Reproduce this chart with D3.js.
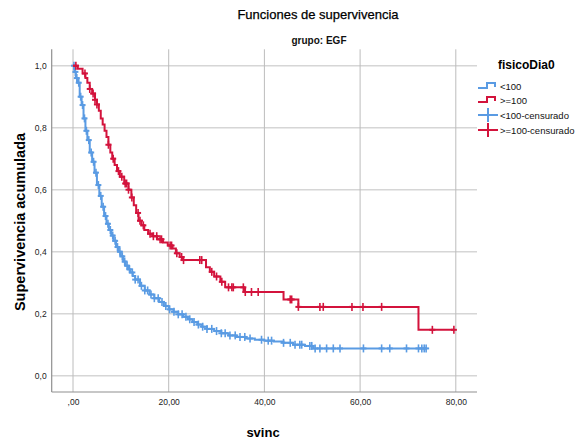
<!DOCTYPE html>
<html>
<head>
<meta charset="utf-8">
<script src="https://cdn.jsdelivr.net/npm/d3@7"></script>
<style>
  body { margin: 0; background: #fff; }
  svg { display: block; font-family: "Liberation Sans", Arial, sans-serif; }
</style>
</head>
<body>
<svg width="585" height="441"></svg>
<script>
// survival curves (step points)
var blueTime = [0,0.3,0.6,1.0,1.4,1.8,2.2,2.6,3.0,3.5,4.0,4.5,5.0,5.5,6.0,6.5,7.0,7.5,8.0,8.5,9.0,9.5,10.0,10.5,11.0,11.5,12.0,12.5,13.0,14.0,15.0,16.0,17.0,18.0,19.0,20.0,21.0,22.0,23.0,24.0,25.0,26.0,27.0,28.0,29.5,31.0,32.5,34.0,36.0,38.0,40.0,42.0,44.0,46.0,48.5,50.2];
var blueSurv = [1.0,0.98,0.96,0.945,0.9,0.873,0.83,0.79,0.76,0.72,0.69,0.655,0.615,0.58,0.545,0.515,0.49,0.47,0.452,0.435,0.415,0.4,0.385,0.368,0.355,0.343,0.333,0.322,0.31,0.29,0.275,0.262,0.25,0.238,0.225,0.214,0.206,0.198,0.19,0.182,0.173,0.165,0.158,0.151,0.144,0.137,0.13,0.125,0.12,0.116,0.113,0.11,0.106,0.1,0.096,0.088];
var blueEnd = 73.9;
var blueCens = [0.2,0.5,0.8,1.2,1.6,2.0,2.4,2.8,3.3,3.8,4.3,4.8,5.3,5.8,6.3,6.8,7.3,7.8,8.3,8.8,9.3,9.8,10.3,10.8,11.3,11.8,12.4,13.0,13.6,14.3,15.0,15.6,16.3,17.0,17.8,18.6,19.4,20.2,21.1,22.0,22.8,23.6,24.4,25.3,26.2,27.1,28.0,29.0,30.0,31.0,31.8,32.8,33.9,34.9,35.9,37.0,39.4,40.8,41.5,44.0,45.4,46.4,47.4,47.8,49.5,49.9,50.6,51.6,53.0,54.4,55.8,60.7,64.5,66.2,69.7,72.2,72.9,73.4,73.8];

var redTime = [0,1.0,2.0,2.6,3.0,3.5,4.0,4.6,5.0,5.4,5.8,6.2,6.6,7.0,7.4,7.8,8.2,8.7,9.2,9.8,10.7,11.6,12.2,12.7,13.2,13.7,14.3,14.9,15.7,16.6,17.6,18.8,19.8,20.8,21.5,22.3,23.0,27.8,28.6,29.5,30.8,31.8,35.8,44.0,47.1,72.2];
var redSurv = [1.0,0.99,0.975,0.96,0.945,0.925,0.91,0.89,0.875,0.855,0.83,0.81,0.79,0.77,0.745,0.72,0.70,0.68,0.66,0.642,0.62,0.60,0.575,0.55,0.525,0.50,0.485,0.47,0.458,0.45,0.44,0.43,0.42,0.41,0.395,0.383,0.373,0.35,0.335,0.32,0.303,0.285,0.27,0.246,0.222,0.148];
var redEnd = 79.7;
var redCens = [0.6,2.5,3.5,4.2,4.6,5.0,7.4,8.4,9.5,10.2,10.9,11.2,11.6,12.3,13.6,14.0,14.7,16.1,16.8,17.5,18.2,18.5,20.3,20.6,21.7,22.7,23.1,26.5,26.9,29.0,30.0,31.1,32.5,33.2,33.5,35.6,36.0,37.3,38.7,45.4,45.7,47.1,51.6,52.3,58.3,60.6,64.5,75.1,79.6];

var xTicks = [0,20,40,60,80];
var xTickLabels = [",00","20,00","40,00","60,00","80,00"];
var yTicks = [0,0.2,0.4,0.6,0.8,1.0];
var yTickLabels = ["0,0","0,2","0,4","0,6","0,8","1,0"];
var legendLabels = ["<100",">=100","<100-censurado",">=100-censurado"];

var blue = "#5a9be3", red = "#d3133c";

var svg = d3.select('svg');
var plotLeft = 51.7, plotRight = 477, plotTop = 49.3, plotBottom = 392;

var x = d3.scaleLinear().domain([0,80]).range([73,455.8]);
var y = d3.scaleLinear().domain([0,1]).range([375.7,65.7]);

// titles
svg.append('text').attr('x',318).attr('y',19).attr('text-anchor','middle')
   .style('font-size','13px').style('fill','#000').style('stroke','#000').style('stroke-width',0.25)
   .text('Funciones de supervivencia');
svg.append('text').attr('x',319).attr('y',44).attr('text-anchor','middle')
   .style('font-size','10px').style('font-weight','bold').style('fill','#111').text('grupo: EGF');

// grid
svg.append('g').selectAll('line').data(yTicks).enter().append('line')
   .attr('x1',plotLeft).attr('x2',plotRight).attr('y1',d=>y(d)).attr('y2',d=>y(d))
   .attr('stroke','#d6d6d6').attr('stroke-width',1.5);
svg.append('g').selectAll('line').data(xTicks).enter().append('line')
   .attr('x1',d=>x(d)).attr('x2',d=>x(d)).attr('y1',plotTop).attr('y2',plotBottom)
   .attr('stroke','#bcbcbc').attr('stroke-width',1);

// axes
var yAxis = d3.axisLeft(y).tickValues(yTicks).tickSize(0).tickPadding(5)
              .tickFormat((d,i)=>yTickLabels[i]);
var gy = svg.append('g').attr('transform',`translate(${plotLeft},0)`).call(yAxis);
var xAxis = d3.axisBottom(x).tickValues(xTicks).tickSize(0).tickPadding(7)
              .tickFormat((d,i)=>xTickLabels[i]);
var gx = svg.append('g').attr('transform',`translate(0,${plotBottom})`).call(xAxis);
[gx,gy].forEach(function(g){
  g.select('.domain').remove();
  g.selectAll('text').style('font-family','"Liberation Sans", Arial, sans-serif')
   .style('font-size','8.5px').style('fill','#222');
});
svg.append('line').attr('x1',plotLeft).attr('x2',plotLeft).attr('y1',plotTop).attr('y2',plotBottom)
   .attr('stroke','#8f8f8f').attr('stroke-width',1.2);
svg.append('line').attr('x1',plotLeft).attr('x2',plotRight).attr('y1',plotBottom).attr('y2',plotBottom)
   .attr('stroke','#8f8f8f').attr('stroke-width',1.2);

// axis titles
svg.append('text').attr('transform','translate(25,222) rotate(-90)').attr('text-anchor','middle')
   .style('font-size','14.5px').style('font-weight','bold').style('fill','#000').text('Supervivencia acumulada');
svg.append('text').attr('x',263).attr('y',437).attr('text-anchor','middle')
   .style('font-size','13px').style('font-weight','bold').style('fill','#000').text('svinc');

// curves
var line = d3.line().x(d=>x(d[0])).y(d=>y(d[1])).curve(d3.curveStepAfter);
function drawGroup(times, surv, end, cens, color) {
  var pts = times.map((t,i)=>[t,surv[i]]);
  pts.push([end, surv[surv.length-1]]);
  svg.append('path').attr('d',line(pts)).attr('fill','none')
     .attr('stroke',color).attr('stroke-width',2);
  var marks = svg.append('g').selectAll('g').data(cens).enter().append('g')
     .attr('transform',function(t){
       var i = d3.bisectRight(times,t)-1;
       return `translate(${x(t)},${y(surv[i])})`;
     });
  marks.append('line').attr('x1',0).attr('x2',0).attr('y1',-4).attr('y2',4)
       .attr('stroke',color).attr('stroke-width',1.6);
  marks.append('line').attr('x1',-3).attr('x2',3).attr('y1',0).attr('y2',0)
       .attr('stroke',color).attr('stroke-width',2);
}
drawGroup(blueTime, blueSurv, blueEnd, blueCens, blue);
drawGroup(redTime, redSurv, redEnd, redCens, red);

// legend
var lg = svg.append('g');
lg.append('text').attr('x',498).attr('y',69).style('font-size','12px').style('font-weight','bold')
  .style('fill','#000').text('fisicoDia0');
var legY = [86,100,115,130];
var legColors = [blue, red, blue, red];
legendLabels.forEach(function(lab,i){
  var yy = legY[i];
  if (i < 2) {
    lg.append('path').attr('d',`M478,${yy+2}H487V${yy-3}H495V${yy+1}`)
      .attr('fill','none').attr('stroke',legColors[i]).attr('stroke-width',2);
  } else {
    lg.append('line').attr('x1',478).attr('x2',498).attr('y1',yy).attr('y2',yy)
      .attr('stroke',legColors[i]).attr('stroke-width',2);
    lg.append('line').attr('x1',488).attr('x2',488).attr('y1',yy-7).attr('y2',yy+7)
      .attr('stroke',legColors[i]).attr('stroke-width',2);
  }
  lg.append('text').attr('x',500).attr('y',yy+3.5).style('font-size','9.5px')
    .style('fill','#111').text(lab);
});
</script>
</body>
</html>
